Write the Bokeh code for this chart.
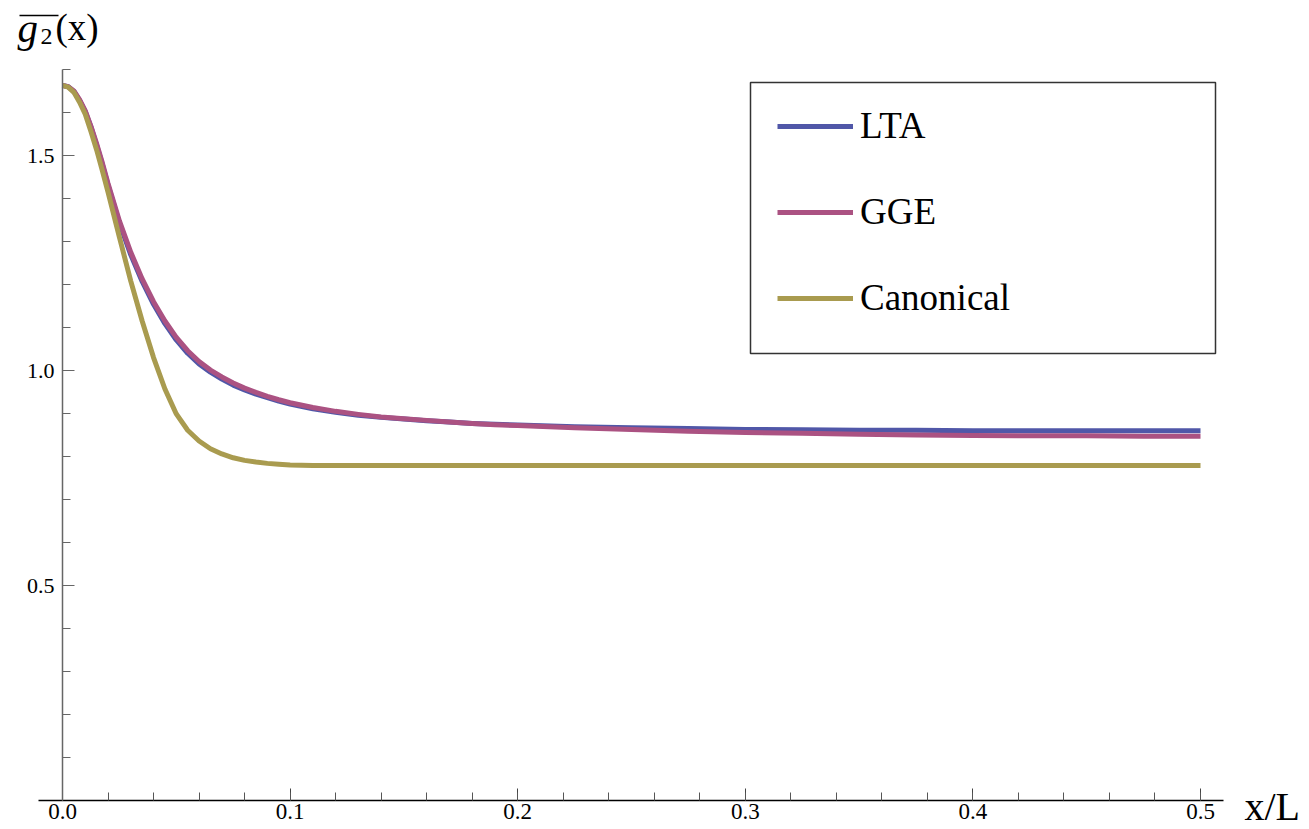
from bokeh.plotting import figure
from bokeh.models import (FixedTicker, Label, Legend, LegendItem, Arrow, ColumnDataSource, BoxAnnotation)
from bokeh.embed import file_html
from bokeh.resources import INLINE

# ---- data ----
x_vals = [0.0, 0.0025, 0.005, 0.0075, 0.01, 0.0125, 0.015, 0.0175, 0.02, 0.025, 0.03,
          0.035, 0.04, 0.045, 0.05, 0.055, 0.06, 0.065, 0.07, 0.075, 0.08, 0.085,
          0.09, 0.095, 0.1, 0.11, 0.12, 0.13, 0.14, 0.15, 0.16, 0.17, 0.18, 0.19, 0.2,
          0.225, 0.25, 0.275, 0.3, 0.325, 0.35, 0.375, 0.4, 0.425, 0.45, 0.475, 0.5]

lta = [1.663, 1.660, 1.649, 1.628, 1.602, 1.566, 1.524, 1.479, 1.431, 1.343, 1.269,
       1.207, 1.154, 1.109, 1.071, 1.040, 1.015, 0.996, 0.980, 0.966, 0.955, 0.945,
       0.937, 0.929, 0.922, 0.911, 0.903, 0.896, 0.891, 0.887, 0.883, 0.880, 0.877, 0.875, 0.873,
       0.869, 0.867, 0.865, 0.863, 0.862, 0.861, 0.861, 0.860, 0.860, 0.860, 0.860, 0.860]

gge = [1.663, 1.660, 1.650, 1.630, 1.604, 1.568, 1.527, 1.483, 1.435, 1.348, 1.275,
       1.213, 1.160, 1.115, 1.077, 1.046, 1.021, 1.001, 0.985, 0.971, 0.959, 0.949,
       0.940, 0.932, 0.925, 0.914, 0.905, 0.898, 0.892, 0.888, 0.884, 0.880, 0.877, 0.874, 0.872,
       0.867, 0.863, 0.859, 0.856, 0.854, 0.852, 0.850, 0.849, 0.848, 0.848, 0.847, 0.847]

canonical = [1.663, 1.659, 1.647, 1.624, 1.596, 1.556, 1.513, 1.465, 1.415, 1.310, 1.208,
             1.115, 1.030, 0.957, 0.899, 0.861, 0.836, 0.818, 0.806, 0.797, 0.791, 0.787,
             0.784, 0.782, 0.780, 0.779, 0.779, 0.779, 0.779, 0.779, 0.779, 0.779, 0.779, 0.779, 0.779,
             0.779, 0.779, 0.779, 0.779, 0.779, 0.779, 0.779, 0.779, 0.779, 0.779, 0.779, 0.779]

series_names = ["LTA", "GGE", "Canonical"]
series_colors = ["#5057A8", "#AB5282", "#A99B4F"]

x_major = [0.0, 0.1, 0.2, 0.3, 0.4, 0.5]
x_minor = [round(0.02 * i, 2) for i in range(0, 26)]
y_major = [0.5, 1.0, 1.5]
y_minor = [round(0.1 * i, 1) for i in range(1, 18)]

FONT = "Liberation Serif"
W, H = 1309, 829
X0_PX, PX_PER_X = 62.0, 2276.0
Y0_PX, PX_PER_Y = 800.0, 430.0


def dx(px):
    return (px - X0_PX) / PX_PER_X


def dy(py):
    return (Y0_PX - py) / PX_PER_Y


p = figure(width=W, height=H, output_backend="svg", toolbar_location=None,
           x_range=(dx(0), dx(W)), y_range=(dy(H), dy(0)),
           min_border_left=0, min_border_right=0, min_border_top=0, min_border_bottom=0,
           background_fill_color="white", border_fill_color="white")
p.outline_line_color = None
p.grid.visible = False

# x axis at y = 0
xa = p.xaxis[0]
xa.fixed_location = 0
xa.bounds = (dx(38), dx(1223))
xa.ticker = FixedTicker(ticks=x_major, minor_ticks=x_minor)
xa.major_label_overrides = {0.0: "0.0", 0.1: "0.1", 0.2: "0.2", 0.3: "0.3", 0.4: "0.4", 0.5: "0.5"}
xa.axis_line_color = "black"
xa.axis_line_width = 1.5
xa.major_tick_in = 12
xa.major_tick_out = 0
xa.minor_tick_in = 8
xa.minor_tick_out = 0
xa.major_tick_line_color = "#444444"
xa.minor_tick_line_color = "#555555"
xa.major_label_text_font = FONT
xa.major_label_text_font_size = "23px"
xa.major_label_text_color = "black"
xa.major_label_standoff = 3

# y axis at x = 0
ya = p.yaxis[0]
ya.fixed_location = 0
ya.bounds = (0.0, 1.70)
ya.ticker = FixedTicker(ticks=y_major, minor_ticks=y_minor)
ya.major_label_overrides = {0.5: "0.5", 1.0: "1.0", 1.5: "1.5"}
ya.axis_line_color = "#666666"
ya.axis_line_width = 1.5
ya.major_tick_in = 12
ya.major_tick_out = 0
ya.minor_tick_in = 8
ya.minor_tick_out = 0
ya.major_tick_line_color = "#666666"
ya.minor_tick_line_color = "#666666"
ya.major_label_text_font = FONT
ya.major_label_text_font_size = "22px"
ya.major_label_text_color = "black"
ya.major_label_standoff = 8

renderers = []
for name, ys, col in zip(series_names, [lta, gge, canonical], series_colors):
    src = ColumnDataSource(dict(x=x_vals, y=ys))
    r = p.line("x", "y", source=src, line_color=col, line_width=5, line_join="round")
    renderers.append(r)

# legend frame
p.add_layout(BoxAnnotation(left=dx(750), right=dx(1215), top=dy(82), bottom=dy(353),
                           fill_color="white", fill_alpha=1.0,
                           line_color="#333333", line_alpha=1.0, line_width=1.5, level="overlay"))

legend = Legend(items=[LegendItem(label=n, renderers=[r]) for n, r in zip(series_names, renderers)],
                location=(777, H - 319), orientation="vertical")
legend.label_text_font = FONT
legend.label_text_font_size = "37px"
legend.label_text_color = "black"
legend.label_text_baseline = "middle"
legend.glyph_width = 76
legend.glyph_height = 40
legend.label_height = 40
legend.label_width = 300
legend.label_standoff = 7
legend.spacing = 43
legend.padding = 0
legend.margin = 0
legend.border_line_color = None
legend.background_fill_alpha = 0.0
p.add_layout(legend, "center")

SHIFT = 12  # Label rendering sits lower than its anchor by about this much

# axis labels
p.add_layout(Label(x=dx(1244), y=dy(818 - SHIFT), text="x/L", text_font=FONT, text_font_size="40px",
                   text_color="black", text_baseline="alphabetic"))
p.add_layout(Label(x=dx(17), y=dy(39 - SHIFT), text="g", text_font=FONT, text_font_style="italic",
                   text_font_size="41px", text_color="black", text_baseline="alphabetic"))
p.add_layout(Label(x=dx(40), y=dy(46 - SHIFT + 2), text="2", text_font=FONT,
                   text_font_size="24px", text_color="black", text_baseline="alphabetic"))
p.add_layout(Label(x=dx(55), y=dy(39 - SHIFT), text="(x)", text_font=FONT,
                   text_font_size="37px", text_color="black", text_baseline="alphabetic"))
p.add_layout(Arrow(x_start=dx(19), y_start=dy(15), x_end=dx(58), y_end=dy(15),
                   start=None, end=None, line_color="black", line_width=1.5))

open("out.html", "w").write(file_html(p, INLINE))
